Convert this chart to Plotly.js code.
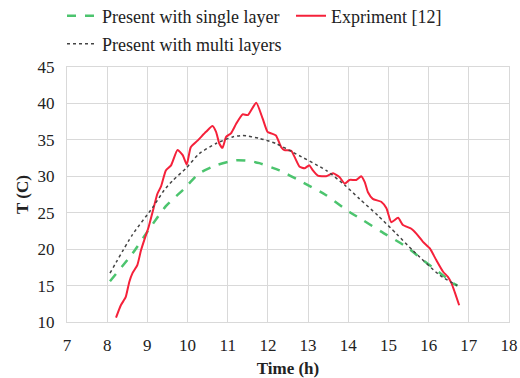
<!DOCTYPE html>
<html>
<head>
<meta charset="utf-8">
<script src="https://cdn.plot.ly/plotly-3.0.1.min.js"></script>
<style>html,body{margin:0;padding:0;background:#fff;}#chart{width:520px;height:378px;}</style>
</head>
<body>
<div id="chart"></div>
<script>
// Present with single layer
const singleT = [8.07, 8.63, 9.04, 9.46, 9.92, 10.29, 10.71, 11.21, 11.54, 11.79, 12.29, 12.79, 13.45, 14.03, 14.36, 14.82, 15.45, 15.86, 16.36, 16.61, 16.72];
const singleV = [15.6, 19.4, 22.7, 25.9, 28.3, 30.4, 31.5, 32.2, 32.1, 31.8, 30.8, 29.4, 27.4, 25.1, 24.0, 22.4, 20.3, 18.5, 16.4, 15.3, 15.0];

// Present with multi layers
const multiT = [8.07, 8.63, 9.13, 9.42, 9.63, 9.96, 10.29, 10.71, 11.12, 11.37, 11.79, 12.20, 12.62, 13.45, 13.91, 14.28, 14.74, 15.20, 15.61, 16.28, 16.71];
const multiV = [16.7, 22.0, 25.7, 28.1, 29.4, 31.1, 33.1, 34.5, 35.4, 35.6, 35.2, 34.5, 33.3, 30.8, 28.8, 26.9, 24.6, 22.1, 19.8, 16.4, 15.0];

// Expriment [12]
const expT = [8.22, 8.34, 8.46, 8.55, 8.63, 8.75, 8.84, 8.92, 9.03, 9.13, 9.25, 9.34, 9.46, 9.59, 9.75, 9.88, 9.98, 10.08, 10.25, 10.46, 10.62, 10.71, 10.79, 10.87, 10.96, 11.08, 11.21, 11.37, 11.50, 11.71, 11.87, 11.99, 12.08, 12.20, 12.33, 12.41, 12.58, 12.66, 12.79, 12.91, 13.03, 13.12, 13.24, 13.45, 13.62, 13.78, 13.91, 14.03, 14.20, 14.32, 14.41, 14.49, 14.61, 14.82, 14.95, 15.07, 15.24, 15.36, 15.57, 15.70, 15.86, 16.03, 16.19, 16.36, 16.48, 16.57, 16.65, 16.76];
const expV = [10.6, 12.3, 13.4, 15.5, 16.7, 17.8, 19.8, 21.2, 23.0, 25.1, 27.6, 28.6, 30.8, 31.5, 33.6, 32.9, 31.6, 34.0, 34.9, 36.1, 36.9, 36.1, 34.5, 33.9, 35.4, 35.9, 37.2, 38.5, 38.4, 40.1, 37.9, 36.1, 35.9, 35.6, 34.0, 33.6, 33.5, 32.7, 31.3, 31.1, 31.5, 30.8, 30.1, 30.0, 30.4, 29.9, 29.0, 29.5, 29.5, 30.0, 29.2, 27.8, 26.9, 26.5, 25.6, 23.7, 24.3, 23.3, 22.8, 22.1, 21.0, 20.1, 18.5, 16.9, 16.2, 15.3, 14.1, 12.3];

const xTicks = [7, 8, 9, 10, 11, 12, 13, 14, 15, 16, 17, 18];
const yTicks = [10, 15, 20, 25, 30, 35, 40, 45];

const serif = "Liberation Serif";

const traces = [
  {x: singleT, y: singleV, name: "Present with single layer", mode: "lines", type: "scatter",
   line: {color: "#4cc46e", width: 2.5, dash: "dash", shape: "spline", smoothing: 0.6}, legend: "legend"},
  {x: expT, y: expV, name: "Expriment [12]", mode: "lines", type: "scatter",
   line: {color: "#f5213a", width: 2, shape: "spline", smoothing: 0.5}, legend: "legend3"},
  {x: multiT, y: multiV, name: "Present with multi layers", mode: "lines", type: "scatter",
   line: {color: "#444444", width: 1.5, dash: "dot", shape: "spline", smoothing: 0.6}, legend: "legend2"}
];

const axisCommon = {
  showgrid: true, gridcolor: "#d9d9d9", gridwidth: 1,
  showline: true, linecolor: "#d9d9d9", linewidth: 1, mirror: true,
  zeroline: false, ticks: ""
};

const legendCommon = {orientation: "h", xref: "container", yref: "container",
  xanchor: "left", yanchor: "middle",
  font: {family: serif, size: 18, color: "#222"}, bgcolor: "rgba(0,0,0,0)"};

const layout = {
  width: 520, height: 378,
  margin: {l: 67, r: 11, t: 67, b: 56},
  paper_bgcolor: "#fff", plot_bgcolor: "#fff",
  font: {family: serif, size: 16, color: "#222"},
  xaxis: Object.assign({}, axisCommon, {
    range: [7, 18], tickvals: xTicks, ticktext: xTicks.map(String),
    tickfont: {family: serif, size: 17, color: "#222"}, ticklabelstandoff: 8,
    title: {text: "<b>Time (h)</b>", font: {family: serif, size: 17, color: "#222"}, standoff: 10}
  }),
  yaxis: Object.assign({}, axisCommon, {
    range: [10, 45], tickvals: yTicks, ticktext: yTicks.map(String),
    tickfont: {family: serif, size: 17, color: "#222"}, ticklabelstandoff: 8,
    title: {text: "<b>T (C)</b>", font: {family: serif, size: 17, color: "#222"}, standoff: 4}
  }),
  legend: Object.assign({}, legendCommon, {x: 62/520, y: 1 - 16/378}),
  legend3: Object.assign({}, legendCommon, {x: 291/520, y: 1 - 16/378}),
  legend2: Object.assign({}, legendCommon, {x: 62/520, y: 1 - 44/378}),
  showlegend: true
};

Plotly.newPlot("chart", traces, layout, {displayModeBar: false, staticPlot: true});
</script>
</body>
</html>
